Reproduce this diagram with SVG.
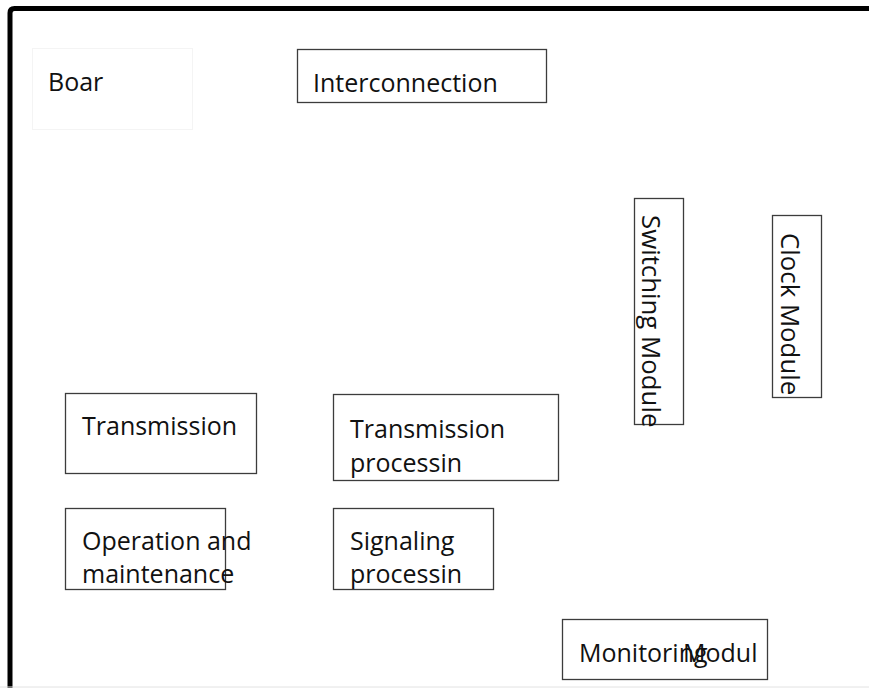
<svg xmlns="http://www.w3.org/2000/svg" width="869" height="688" viewBox="0 0 869 688">
  <style>
    .box { fill: #ffffff; stroke: #3c3c3c; stroke-width: 1.3; }
    .faint { fill: #ffffff; stroke: #f4f4f4; stroke-width: 1; }
    .lbl { font-family: "Open Sans", "Noto Sans", sans-serif; font-size: 25px; fill: #111111; }
    .vlbl { font-size: 25.8px; }
  </style>
  <rect x="0" y="0" width="869" height="688" fill="#ffffff"/>

  <!-- outer frame: top and left edges only -->
  <path d="M10,688 V13 Q10,8.5 14.5,8.5 H869" fill="none" stroke="#000000" stroke-width="5"/>
  <line x1="0" y1="687" x2="869" y2="687" stroke="#e2e2e2" stroke-width="1"/>

  <g id="connectors"></g>

  <g id="board">
    <rect class="faint" x="32.5" y="48.5" width="160" height="81"/>
    <text class="lbl" x="48" y="91">Boar</text>
  </g>

  <g id="interconnection">
    <rect class="box" x="297.5" y="49.5" width="249" height="53"/>
    <text class="lbl" x="313" y="92">Interconnection</text>
  </g>

  <g id="switching-module">
    <rect class="box" x="634.5" y="198.5" width="49" height="226"/>
    <text class="lbl vlbl" transform="translate(642,215) rotate(90)">Switching Module</text>
  </g>

  <g id="clock-module">
    <rect class="box" x="772.5" y="215.5" width="49" height="182"/>
    <text class="lbl vlbl" transform="translate(781,233) rotate(90)">Clock Module</text>
  </g>

  <g id="transmission">
    <rect class="box" x="65.5" y="393.5" width="191" height="80"/>
    <text class="lbl" x="82" y="435">Transmission</text>
  </g>

  <g id="transmission-processing">
    <rect class="box" x="333.5" y="394.5" width="225" height="86"/>
    <text class="lbl" x="350" y="438">Transmission</text>
    <text class="lbl" x="350" y="472">processin</text>
  </g>

  <g id="operation-maintenance">
    <rect class="box" x="65.5" y="508.5" width="160" height="81"/>
    <text class="lbl" x="82" y="550">Operation and</text>
    <text class="lbl" x="82" y="583">maintenance</text>
  </g>

  <g id="signaling-processing">
    <rect class="box" x="333.5" y="508.5" width="160" height="81"/>
    <text class="lbl" x="350" y="550">Signaling</text>
    <text class="lbl" x="350" y="583">processin</text>
  </g>

  <g id="monitoring-module">
    <rect class="box" x="562.5" y="619.5" width="205" height="60"/>
    <text class="lbl" x="579" y="662">Monitoring</text>
    <text class="lbl" x="683" y="662">Modul</text>
  </g>
</svg>
